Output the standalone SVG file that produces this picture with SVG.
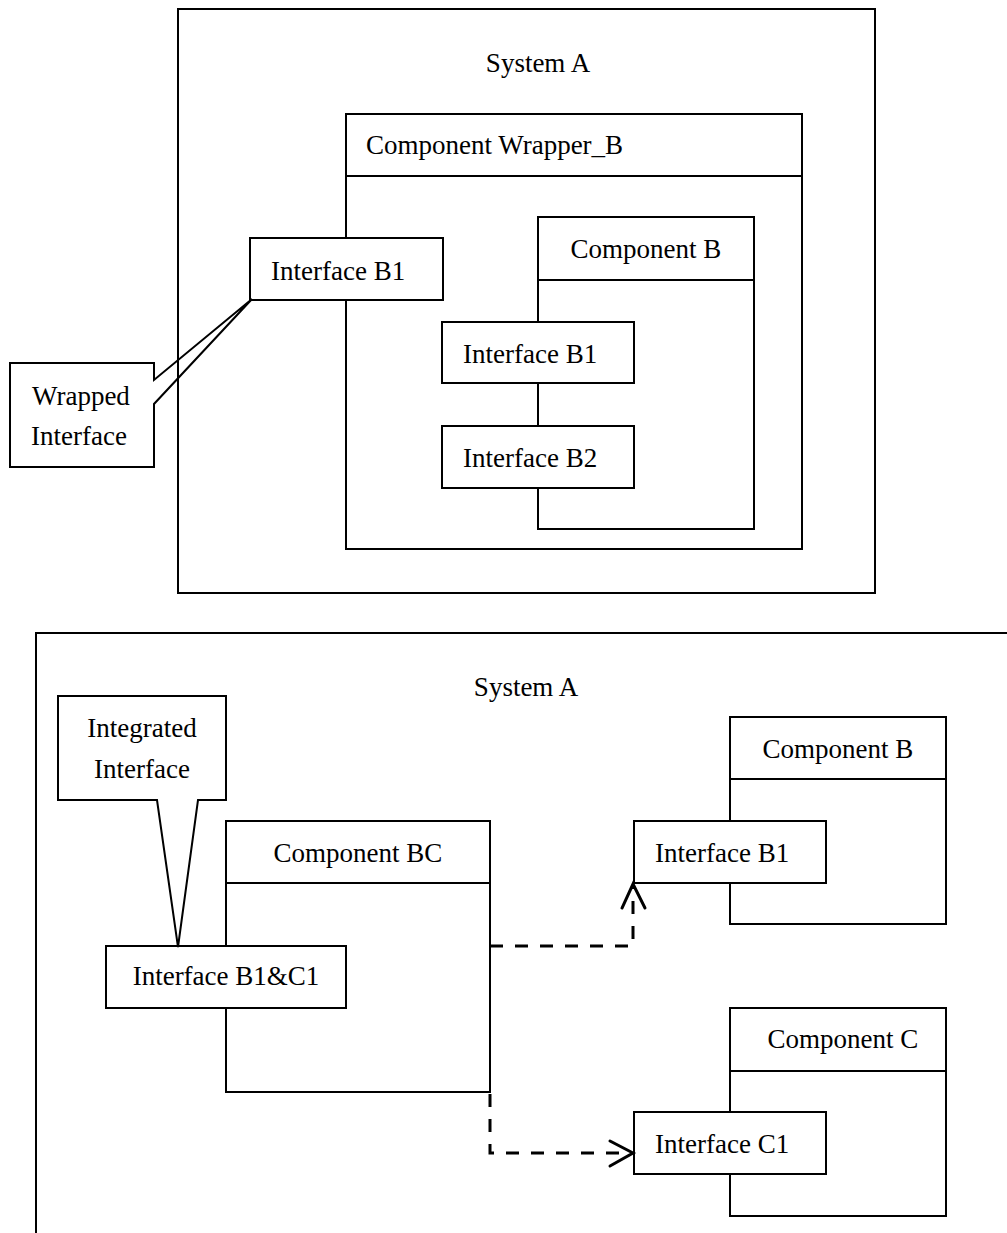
<svg xmlns="http://www.w3.org/2000/svg" width="1007" height="1233" viewBox="0 0 1007 1233">
  <style>
    text { font-family: "Liberation Serif", "Times New Roman", serif; font-size: 27px; fill: #000; }
    .box { fill: #fff; stroke: #000; stroke-width: 2; }
    .frame { fill: none; stroke: #000; stroke-width: 2; }
    .line { fill: none; stroke: #000; stroke-width: 2; }
    .dash { fill: none; stroke: #000; stroke-width: 3; stroke-dasharray: 13 12; }
    .head { fill: none; stroke: #000; stroke-width: 3; stroke-linecap: round; stroke-linejoin: miter; }
  </style>
  <rect width="1007" height="1233" fill="#fff"/>

  <!-- Upper view: System A with wrapped component -->
  <g id="systemA-top">
    <rect class="frame" x="178" y="9" width="697" height="584"/>
    <text x="538" y="72" text-anchor="middle">System A</text>
  </g>
  <g id="wrapper-b">
    <rect class="box" x="346" y="114" width="456" height="435"/>
    <line class="line" x1="346" y1="176" x2="802" y2="176"/>
    <text x="366" y="154">Component Wrapper_B</text>
  </g>
  <g id="component-b-inner">
    <rect class="box" x="538" y="217" width="216" height="312"/>
    <line class="line" x1="538" y1="280" x2="754" y2="280"/>
    <text x="646" y="258" text-anchor="middle">Component B</text>
  </g>
  <g id="wrapper-interface-b1">
    <rect class="box" x="250" y="238" width="193" height="62"/>
    <text x="271" y="280">Interface B1</text>
  </g>
  <g id="inner-interface-b1">
    <rect class="box" x="442" y="322" width="192" height="61"/>
    <text x="463" y="363">Interface B1</text>
  </g>
  <g id="inner-interface-b2">
    <rect class="box" x="442" y="426" width="192" height="62"/>
    <text x="463" y="467">Interface B2</text>
  </g>
  <g id="note-wrapped">
    <polygon class="frame" points="10,363 154,363 154,380 252,299 154,404 154,467 10,467"/>
    <text x="32" y="405">Wrapped</text>
    <text x="31" y="445">Interface</text>
  </g>

  <!-- Lower view: System A with integrated component -->
  <g id="systemA-bottom">
    <polyline class="frame" points="36,1233 36,633 1007,633"/>
    <text x="526" y="696" text-anchor="middle">System A</text>
  </g>
  <g id="component-bc">
    <rect class="box" x="226" y="821" width="264" height="271"/>
    <line class="line" x1="226" y1="883" x2="490" y2="883"/>
    <text x="358" y="862" text-anchor="middle">Component BC</text>
  </g>
  <g id="interface-b1c1">
    <rect class="box" x="106" y="946" width="240" height="62"/>
    <text x="226" y="985" text-anchor="middle">Interface B1&amp;C1</text>
  </g>
  <g id="note-integrated">
    <polygon class="frame" points="58,696 226,696 226,800 198,800 178,947 157,800 58,800"/>
    <text x="142" y="737" text-anchor="middle">Integrated</text>
    <text x="142" y="778" text-anchor="middle">Interface</text>
  </g>
  <g id="component-b">
    <rect class="box" x="730" y="717" width="216" height="207"/>
    <line class="line" x1="730" y1="779" x2="946" y2="779"/>
    <text x="838" y="758" text-anchor="middle">Component B</text>
  </g>
  <g id="interface-b1">
    <rect class="box" x="634" y="821" width="192" height="62"/>
    <text x="655" y="862">Interface B1</text>
  </g>
  <g id="component-c">
    <rect class="box" x="730" y="1008" width="216" height="208"/>
    <line class="line" x1="730" y1="1071" x2="946" y2="1071"/>
    <text x="843" y="1048" text-anchor="middle">Component C</text>
  </g>
  <g id="interface-c1">
    <rect class="box" x="634" y="1112" width="192" height="62"/>
    <text x="655" y="1153">Interface C1</text>
  </g>

  <!-- Dependency connectors -->
  <g id="connectors">
    <polyline class="dash" points="490,946 633,946 633,886"/>
    <polyline class="head" points="622,908 633,884 645,908"/>
    <polyline class="dash" points="490,1094 490,1153 630,1153"/>
    <polyline class="head" points="610,1141 633,1153 610,1166"/>
  </g>
</svg>
